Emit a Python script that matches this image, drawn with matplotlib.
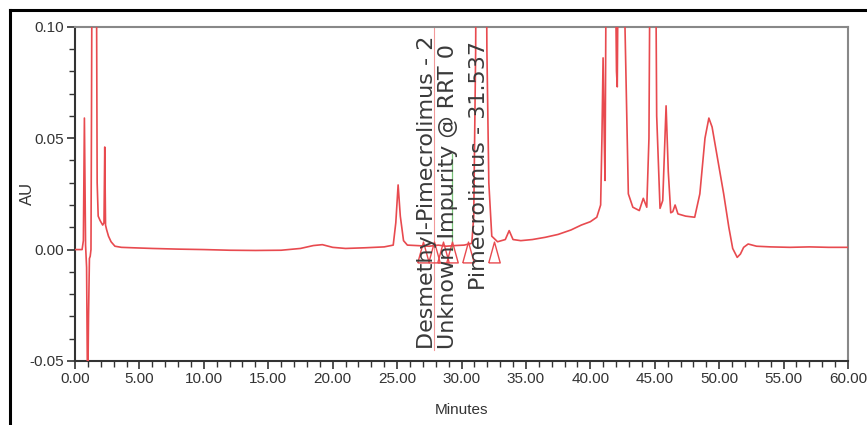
import matplotlib
matplotlib.use("Agg")
import matplotlib.pyplot as plt
from matplotlib.lines import Line2D
from matplotlib.ticker import MultipleLocator, FormatStrFormatter
from matplotlib import font_manager

# ---- data ----
time_min = [0.0, 0.55, 0.65, 0.73, 0.82, 0.9, 0.98, 1.05, 1.12, 1.18, 1.24, 1.28, 1.33,
            1.5, 1.65, 1.72, 1.8, 1.95, 2.15, 2.25, 2.31, 2.37, 2.45, 2.6, 2.8, 3.1, 3.6,
            4.5, 6.0, 8.0, 10.0, 12.0, 14.0, 16.0, 17.5, 18.5, 19.2, 20.0, 21.0, 22.5,
            24.0, 24.7, 24.9, 25.08, 25.25, 25.5, 25.8, 26.5, 27.5, 28.2, 28.8, 29.5,
            30.2, 30.8, 30.95, 31.1, 31.25, 31.54, 31.8, 31.97, 32.12, 32.35, 32.8, 33.4,
            33.7, 34.0, 34.6, 35.5, 36.5, 37.5, 38.5, 39.3, 40.0, 40.5, 40.8, 40.9, 40.99,
            41.08, 41.14, 41.22, 41.5, 41.9, 42.03, 42.09, 42.15, 42.4, 42.62, 42.95,
            43.3, 43.8, 44.11, 44.38, 44.55, 44.7, 45.0, 45.15, 45.41, 45.62, 45.88,
            46.05, 46.24, 46.4, 46.58, 46.8, 47.4, 48.1, 48.5, 48.9, 49.2, 49.45, 49.9,
            50.35, 50.75, 51.05, 51.4, 51.65, 51.9, 52.25, 52.9, 54.0, 55.5, 57.0, 58.5,
            60.0]
absorbance_au = [0.0, 0.0, 0.004, 0.059, 0.002, -0.008, -0.07, -0.03, -0.004, -0.003,
                 0.0, 0.06, 0.15, 0.2, 0.15, 0.03, 0.015, 0.013, 0.011, 0.012, 0.046,
                 0.011, 0.009, 0.006, 0.0035, 0.0015, 0.001, 0.0008, 0.0005, 0.0002, 0.0,
                 -0.0003, -0.0004, -0.0003, 0.0005, 0.0018, 0.0022, 0.001, 0.0005, 0.0008,
                 0.0012, 0.002, 0.012, 0.029, 0.015, 0.004, 0.002, 0.0018, 0.0015, 0.002,
                 0.0015, 0.0018, 0.002, 0.0028, 0.015, 0.09, 0.3, 0.5, 0.3, 0.09, 0.03,
                 0.006, 0.0035, 0.0045, 0.0085, 0.0045, 0.004, 0.0045, 0.0055, 0.0068,
                 0.0088, 0.011, 0.0125, 0.0145, 0.02, 0.05, 0.086, 0.05, 0.031, 0.12, 0.25,
                 0.15, 0.08, 0.073, 0.12, 0.3, 0.12, 0.025, 0.019, 0.0175, 0.023, 0.019,
                 0.05, 0.2, 0.2, 0.06, 0.0185, 0.022, 0.0645, 0.035, 0.0165, 0.017, 0.02,
                 0.016, 0.015, 0.0145, 0.025, 0.05, 0.059, 0.055, 0.04, 0.025, 0.01,
                 0.0005, -0.0035, -0.002, 0.001, 0.0025, 0.0015, 0.0012, 0.001, 0.0012,
                 0.001, 0.001]

# peak start / end markers (integration triangles)
marker_times = [27.01, 27.86, 28.56, 29.26, 30.5, 32.52]
marker_au = [-0.001, -0.001, -0.001, -0.001, -0.001, -0.001]

# peak labels
peak_labels = ["Desmethyl-Pimecrolimus - 2", "Unknown Impurity @ RRT 0", "Pimecrolimus - 31.537"]
label_times = [27.35, 28.95, 31.36]
label_bottom_au = [-0.0445, -0.0445, -0.018]

x_ticks = [0, 5, 10, 15, 20, 25, 30, 35, 40, 45, 50, 55, 60]
y_ticks = [-0.05, 0.0, 0.05, 0.10]

# narrow font for axis text if available
names = {f.name for f in font_manager.fontManager.ttflist}
if "Liberation Sans Narrow" in names:
    axis_family = ["Liberation Sans Narrow", "Liberation Sans"]
    axis_size = 11.5
else:
    axis_family = ["Liberation Sans"]
    axis_size = 11

fig = plt.figure(figsize=(8.67, 4.25), dpi=100)
ax = fig.add_axes([75 / 867, 1 - 361 / 425, (848 - 75) / 867, (361 - 26.7) / 425])

trace_color = "#e84a4f"
ax.plot(time_min, absorbance_au, color=trace_color, lw=1.2, zorder=3)

# peak marker lines
ax.plot([27.9, 27.9], [-0.045, 0.10], color="#f29a9a", lw=0.8, zorder=2)
ax.plot([29.24, 29.24], [0.0, 0.043], color="#77c077", lw=0.9, zorder=2)

tri = [(-0.55, -1.0), (0.55, -1.0), (0.0, 1.0), (-0.55, -1.0)]
ax.plot(marker_times, marker_au, linestyle="none", marker=tri, markersize=15,
        markerfacecolor="none", markeredgecolor=trace_color, markeredgewidth=1.0, zorder=4)

for lab, t, yb in zip(peak_labels, label_times, label_bottom_au):
    ax.text(t, yb, lab, rotation=90, ha="center", va="bottom", fontsize=16,
            family=["DejaVu Sans"], color="#3a3a3a", clip_on=True, zorder=5)

ax.set_xlim(0, 60)
ax.set_ylim(-0.05, 0.10)
ax.xaxis.set_major_locator(plt.FixedLocator(x_ticks))
ax.yaxis.set_major_locator(plt.FixedLocator(y_ticks))
ax.xaxis.set_minor_locator(MultipleLocator(1))
ax.yaxis.set_minor_locator(MultipleLocator(0.01))
ax.xaxis.set_major_formatter(FormatStrFormatter("%.2f"))
ax.yaxis.set_major_formatter(FormatStrFormatter("%.2f"))

for lbl in ax.get_xticklabels() + ax.get_yticklabels():
    lbl.set_fontfamily(axis_family)
    lbl.set_fontsize(axis_size)
    lbl.set_color("#333333")

ax.tick_params(which="major", direction="out", length=6, width=1.2, color="#333333", pad=2)
ax.tick_params(which="minor", direction="out", length=4, width=1.0, color="#333333")

for side in ["left", "bottom"]:
    ax.spines[side].set_color("#333333")
    ax.spines[side].set_linewidth(1.5)
for side in ["top", "right"]:
    ax.spines[side].set_color("#888888")
    ax.spines[side].set_linewidth(1.5)

ax.set_xlabel("Minutes", fontsize=axis_size, family=axis_family, color="#333333")
ax.xaxis.set_label_coords(0.5, -0.125)
ax.set_ylabel("AU", fontsize=12, family=["Liberation Sans"], color="#333333")
ax.yaxis.set_label_coords(-0.061, 0.5)
ax.yaxis.label.set_verticalalignment("center")

# outer black frame (left and top edges of the screenshot)
fig.add_artist(Line2D([10 / 867, 10 / 867], [0, 1 - 10 / 425], color="black", lw=2.2,
                      transform=fig.transFigure))
fig.add_artist(Line2D([10 / 867, 1], [1 - 10 / 425, 1 - 10 / 425], color="black", lw=2.2,
                      transform=fig.transFigure))

fig.savefig("out.png", dpi=100, facecolor="white")
